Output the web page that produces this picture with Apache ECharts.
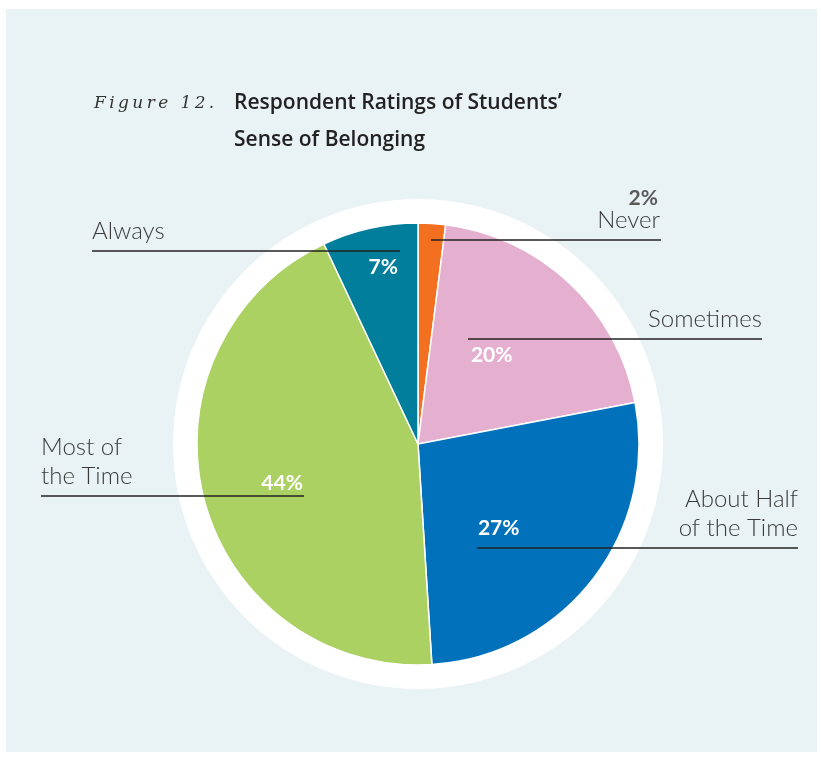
<!DOCTYPE html>
<html>
<head>
<meta charset="utf-8">
<script src="https://cdn.jsdelivr.net/npm/echarts@6/dist/echarts.min.js"></script>
<style>
html,body{margin:0;padding:0;background:#fff;}
#chart{width:821px;height:757px;}
</style>
</head>
<body>
<div id="chart"></div>
<script>
var categories = ['Never', 'Sometimes', 'About Half of the Time', 'Most of the Time', 'Always'];
var values = [2, 20, 27, 44, 7];
var percentLabels = ['2%', '20%', '27%', '44%', '7%'];
var sliceColors = ['#f37021', '#e5afd0', '#0071ba', '#abd162', '#007e9c'];

var CX = 418, CY = 444, R = 221;

// offsets of the in-slice percent labels from the default inside position
var labelShift = [[0, 0], [-4, -6], [-9, 15], [-26, 11], [-10, -66]];

var chart = echarts.init(document.getElementById('chart'), null, {renderer: 'canvas'});

var catFont = {fontFamily: 'Lato', fontWeight: 300, fontSize: 24, fill: '#3a3a3a'};
function catText(txt, x, y, align) {
  return {type: 'text', z: 100, style: Object.assign({text: txt, x: x, y: y, align: align, verticalAlign: 'middle'}, catFont)};
}
function hline(x1, x2, y) {
  return {type: 'line', z: 100, shape: {x1: x1, y1: y, x2: x2, y2: y}, style: {stroke: '#222', lineWidth: 1.3}};
}
var figLabel = 'Figure 12.'.split('').join('\u2009');

var option = {
  backgroundColor: '#ffffff',
  animation: false,
  graphic: [
    {type: 'rect', z: -10, shape: {x: 6, y: 9, width: 811, height: 743}, style: {fill: '#e9f3f6'}},
    {type: 'circle', z: -5, shape: {cx: CX, cy: CY, r: 245}, style: {fill: '#ffffff'}},
    {type: 'text', z: 100, style: {text: figLabel, x: 94, y: 104, verticalAlign: 'middle', fontFamily: 'DejaVu Serif', fontStyle: 'italic', fontSize: 17, fill: '#333'}},
    {type: 'text', z: 100, style: {text: 'Respondent Ratings of Students\u2019', x: 234, y: 103, verticalAlign: 'middle', fontFamily: 'Open Sans', fontWeight: 600, fontSize: 21, fill: '#222'}},
    {type: 'text', z: 100, style: {text: 'Sense of Belonging', x: 234, y: 140, verticalAlign: 'middle', fontFamily: 'Open Sans', fontWeight: 600, fontSize: 21, fill: '#222'}},
    {type: 'text', z: 100, style: {text: percentLabels[0], x: 658, y: 198, align: 'right', verticalAlign: 'middle', fontFamily: 'Lato', fontWeight: 'bold', fontSize: 21, fill: '#5a5a5a'}},
    catText('Never', 660, 220, 'right'),
    hline(431, 661, 240),
    catText('Sometimes', 762, 319, 'right'),
    hline(468, 762, 339),
    catText('About Half', 798, 499, 'right'),
    catText('of the Time', 798, 528, 'right'),
    hline(477, 798, 548),
    catText('Most of', 41, 447, 'left'),
    catText('the Time', 41, 476, 'left'),
    hline(41, 304, 496),
    catText('Always', 92, 231, 'left'),
    hline(92, 400, 251)
  ],
  series: [{
    type: 'pie',
    center: [CX, CY],
    radius: [0, R],
    startAngle: 90,
    clockwise: true,
    silent: true,
    avoidLabelOverlap: false,
    data: categories.map(function (c, i) {
      return {
        name: c,
        value: values[i],
        itemStyle: {color: sliceColors[i]},
        label: {show: i !== 0}
      };
    }),
    itemStyle: {borderColor: '#ffffff', borderWidth: 1.5},
    label: {
      position: 'inside',
      formatter: function (p) { return percentLabels[p.dataIndex]; },
      color: '#ffffff',
      fontFamily: 'Lato',
      fontWeight: 'bold',
      fontSize: 21
    },
    labelLine: {show: false},
    labelLayout: function (p) {
      var s = labelShift[p.dataIndex];
      return {dx: s[0], dy: s[1]};
    }
  }]
};
chart.setOption(option);
</script>
</body>
</html>
